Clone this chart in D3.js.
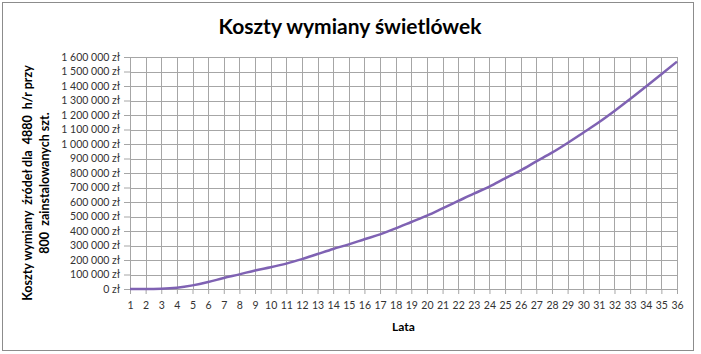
<!DOCTYPE html>
<html>
<head>
<meta charset="utf-8">
<script src="https://cdn.jsdelivr.net/npm/d3@7"></script>
<style>
  body { margin: 0; background: #fff; }
  svg { display: block; font-family: Lato, "Open Sans", sans-serif; }
</style>
</head>
<body>
<svg id="chart"></svg>
<script>
// lata (kategorie osi X)
const years = d3.range(1, 37).map(String);

// koszty wymiany w zł
const costs = [
    0, 0, 2000, 9000, 25000, 48000, 76000, 101000, 128000, 150000,
    175000, 206000, 241000, 276000, 308000, 343000, 377000, 418000, 462000, 506000,
    556000, 607000, 658000, 706000, 763000, 818000, 880000, 940000, 1007000, 1078000,
    1150000, 1228000, 1310000, 1395000, 1481000, 1568000
];

const yTickValues = d3.range(0, 1600001, 100000);

const chartTitle = 'Koszty wymiany świetlówek';
const xTitle = 'Lata';
const yTitleLines = ['Koszty wymiany  źródeł dla  4880  h/r przy', '800  zainstalowanych szt.'];

const config = {
    width: 701,
    height: 354,
    margin: { top: 57, right: 24, bottom: 65, left: 130 }
};

const svg = d3.select('#chart')
    .attr('width', config.width)
    .attr('height', config.height);

// ramka wykresu
svg.append('rect')
    .attr('x', 2.5)
    .attr('y', 2.5)
    .attr('width', 691)
    .attr('height', 348)
    .attr('fill', '#fff')
    .attr('stroke', '#8c8c8c')
    .attr('stroke-width', 1);

const innerW = config.width - config.margin.left - config.margin.right;
const innerH = config.height - config.margin.top - config.margin.bottom;

const chart = svg.append('g')
    .attr('transform', `translate(${config.margin.left},${config.margin.top})`);

const x = d3.scalePoint()
    .domain(years)
    .range([0, innerW]);

const y = d3.scaleLinear()
    .domain([0, 1600000])
    .range([innerH, 0]);

const gridColor = '#a6a6a6';

// siatka pozioma
chart.append('g')
    .selectAll('line')
    .data(yTickValues)
    .join('line')
    .attr('x1', 0)
    .attr('x2', innerW)
    .attr('y1', d => Math.round(y(d)) + 0.5)
    .attr('y2', d => Math.round(y(d)) + 0.5)
    .attr('stroke', gridColor)
    .attr('stroke-width', 1);

// siatka pionowa
chart.append('g')
    .selectAll('line')
    .data(years)
    .join('line')
    .attr('x1', d => Math.round(x(d)) + 0.5)
    .attr('x2', d => Math.round(x(d)) + 0.5)
    .attr('y1', 0)
    .attr('y2', innerH)
    .attr('stroke', gridColor)
    .attr('stroke-width', 1);

const fmt = d => d3.format(',')(d).replace(/,/g, ' ') + ' zł';

// oś Y
const yAxis = chart.append('g')
    .call(d3.axisLeft(y).tickValues(yTickValues).tickFormat(fmt).tickSize(6).tickPadding(4).tickSizeOuter(0));
yAxis.selectAll('line').attr('stroke', gridColor);
yAxis.select('.domain').attr('stroke', gridColor);
yAxis.selectAll('text')
    .attr('fill', '#333')
    .style('font-size', '10.5px')
    .style('font-family', 'Lato, sans-serif');

// oś X
const xAxis = chart.append('g')
    .attr('transform', `translate(0,${innerH})`)
    .call(d3.axisBottom(x).tickSize(5).tickPadding(8).tickSizeOuter(0));
xAxis.selectAll('line').attr('stroke', gridColor);
xAxis.select('.domain').attr('stroke', gridColor);
xAxis.selectAll('text')
    .attr('fill', '#333')
    .style('font-size', '10.5px')
    .style('font-family', 'Lato, sans-serif');

// linia kosztów
const line = d3.line()
    .x((d, i) => x(years[i]))
    .y(d => y(d))
    .curve(d3.curveMonotoneX);

chart.append('path')
    .datum(costs)
    .attr('fill', 'none')
    .attr('stroke', '#7f62b3')
    .attr('stroke-width', 2.5)
    .attr('d', line);

// tytuł
svg.append('text')
    .attr('x', 350)
    .attr('y', 34)
    .attr('text-anchor', 'middle')
    .style('font-size', '21px')
    .style('font-weight', 'bold')
    .attr('fill', '#000')
    .text(chartTitle);

// tytuł osi X
svg.append('text')
    .attr('x', config.margin.left + innerW / 2)
    .attr('y', 331)
    .attr('text-anchor', 'middle')
    .style('font-size', '12px')
    .style('font-weight', 'bold')
    .text(xTitle);

// tytuł osi Y (dwie linie)
const yTitle = svg.append('text')
    .attr('transform', 'translate(32,183) rotate(-90)')
    .attr('text-anchor', 'middle')
    .style('font-size', '12.5px')
    .style('font-weight', 'bold')
    .style('white-space', 'pre');
yTitle.selectAll('tspan')
    .data(yTitleLines)
    .join('tspan')
    .attr('x', 0)
    .attr('dy', (d, i) => i === 0 ? 0 : 17)
    .text(d => d);
</script>
</body>
</html>
